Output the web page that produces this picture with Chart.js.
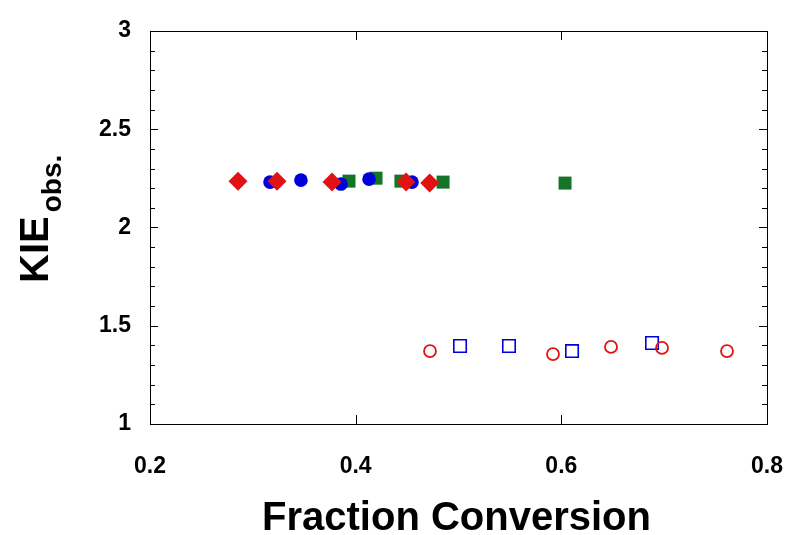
<!DOCTYPE html>
<html lang="en">
<head>
    <meta charset="UTF-8">
    <title>KIE vs fraction conversion</title>
    <script src="https://cdn.jsdelivr.net/npm/chart.js@4.4.0/dist/chart.umd.min.js"></script>
    <style>
        body { margin: 0; background: #fff; }
    </style>
</head>
<body>
    <canvas id="myChart" width="788" height="535"></canvas>
<script>
    // filled markers (upper group)
    const diamondX = [0.2856, 0.3235, 0.377, 0.449, 0.472]
    const diamondY = [2.236, 2.236, 2.231, 2.231, 2.226]
    const circleX = [0.3167, 0.3468, 0.3857, 0.413, 0.4548]
    const circleY = [2.231, 2.241, 2.221, 2.246, 2.231]
    const squareX = [0.3935, 0.4198, 0.444, 0.485, 0.6036]
    const squareY = [2.236, 2.251, 2.236, 2.231, 2.226]
    // open markers (lower group)
    const openCircleX = [0.4723, 0.5919, 0.6483, 0.6979, 0.7611]
    const openCircleY = [1.371, 1.356, 1.392, 1.387, 1.371]
    const openSquareX = [0.5015, 0.5491, 0.6104, 0.6882]
    const openSquareY = [1.397, 1.397, 1.371, 1.412]

    const xTicks = [0.2, 0.4, 0.6, 0.8]
    const yTicks = [1, 1.5, 2, 2.5, 3]

    const RED = 'rgb(226,18,18)'
    const BLUE = 'rgb(0,0,220)'
    const GREEN = 'rgb(22,116,40)'
    const FONT = 'Liberation Sans, Arial, sans-serif'

    function pts(xs, ys) { return xs.map((x, i) => ({ x: x, y: ys[i] })) }

    // box, inward ticks and the axis titles
    const frame = {
        id: 'frame',
        beforeDatasetsDraw(chart) {
            const { ctx, chartArea: a, scales } = chart
            const sx = scales.x, sy = scales.y
            ctx.save()
            ctx.strokeStyle = '#000'
            ctx.lineWidth = 1
            ctx.strokeRect(a.left + 0.5, a.top + 0.5, a.right - a.left, a.bottom - a.top)
            ctx.beginPath()
            for (let v = 1; v <= 3.0001; v += 0.1) {
                const y = Math.round(sy.getPixelForValue(v)) + 0.5
                const major = Math.abs(v * 2 - Math.round(v * 2)) < 1e-6
                const len = major ? 8 : 5
                ctx.moveTo(a.left, y); ctx.lineTo(a.left + len, y)
                ctx.moveTo(a.right, y); ctx.lineTo(a.right - len, y)
            }
            xTicks.forEach(v => {
                const x = Math.round(sx.getPixelForValue(v)) + 0.5
                ctx.moveTo(x, a.bottom); ctx.lineTo(x, a.bottom - 9)
                ctx.moveTo(x, a.top); ctx.lineTo(x, a.top + 9)
            })
            ctx.stroke()

            ctx.fillStyle = '#000'
            ctx.font = 'bold 40px ' + FONT
            ctx.textAlign = 'center'
            ctx.textBaseline = 'alphabetic'
            ctx.fillText('Fraction Conversion', (a.left + a.right) / 2 - 2, 530)

            // KIE with subscript, rotated
            ctx.translate(48, 283)
            ctx.rotate(-Math.PI / 2)
            ctx.textAlign = 'left'
            ctx.font = 'bold 40px ' + FONT
            ctx.fillText('KIE', 0, 0)
            const w = ctx.measureText('KIE').width
            ctx.font = 'bold 28px ' + FONT
            ctx.fillText('obs.', w + 4, 13)
            ctx.restore()
        }
    }

    new Chart('myChart', {
        type: 'scatter',
        data: {
            datasets: [
                { label: 'diamond', data: pts(diamondX, diamondY), pointStyle: 'rectRot', pointRadius: 9.5, backgroundColor: RED, borderColor: RED, borderWidth: 0 },
                { label: 'circle', data: pts(circleX, circleY), pointStyle: 'circle', pointRadius: 6.8, backgroundColor: BLUE, borderColor: BLUE, borderWidth: 0 },
                { label: 'square', data: pts(squareX, squareY), pointStyle: 'rect', pointRadius: 9.2, backgroundColor: GREEN, borderColor: GREEN, borderWidth: 0 },
                { label: 'open circle', data: pts(openCircleX, openCircleY), pointStyle: 'circle', pointRadius: 6, backgroundColor: 'rgba(0,0,0,0)', borderColor: RED, borderWidth: 1.8 },
                { label: 'open square', data: pts(openSquareX, openSquareY), pointStyle: 'rect', pointRadius: 8.8, backgroundColor: 'rgba(0,0,0,0)', borderColor: BLUE, borderWidth: 1.6 }
            ]
        },
        options: {
            responsive: false,
            animation: false,
            layout: { padding: { top: 31, right: 21, left: 0, bottom: 0 } },
            plugins: { legend: { display: false }, tooltip: { enabled: false } },
            scales: {
                x: {
                    type: 'linear', min: 0.2, max: 0.8,
                    border: { display: false },
                    grid: { display: false, drawTicks: false },
                    afterFit(s) { s.height = 111; s.paddingLeft = 0; s.paddingRight = 0 },
                    afterBuildTicks(s) { s.ticks = xTicks.map(v => ({ value: v })) },
                    ticks: {
                        padding: 29, color: '#000',
                        font: { family: FONT, size: 23, weight: 'bold' },
                        callback: v => String(+v.toFixed(1))
                    }
                },
                y: {
                    type: 'linear', min: 1, max: 3,
                    border: { display: false },
                    grid: { display: false, drawTicks: false },
                    afterFit(s) { s.width = 150; s.paddingTop = 0; s.paddingBottom = 0 },
                    afterBuildTicks(s) { s.ticks = yTicks.map(v => ({ value: v })) },
                    ticks: {
                        padding: 19, color: '#000',
                        font: { family: FONT, size: 23, weight: 'bold' },
                        callback: v => String(+v.toFixed(1))
                    }
                }
            }
        },
        plugins: [frame]
    })
</script>
</body>
</html>
